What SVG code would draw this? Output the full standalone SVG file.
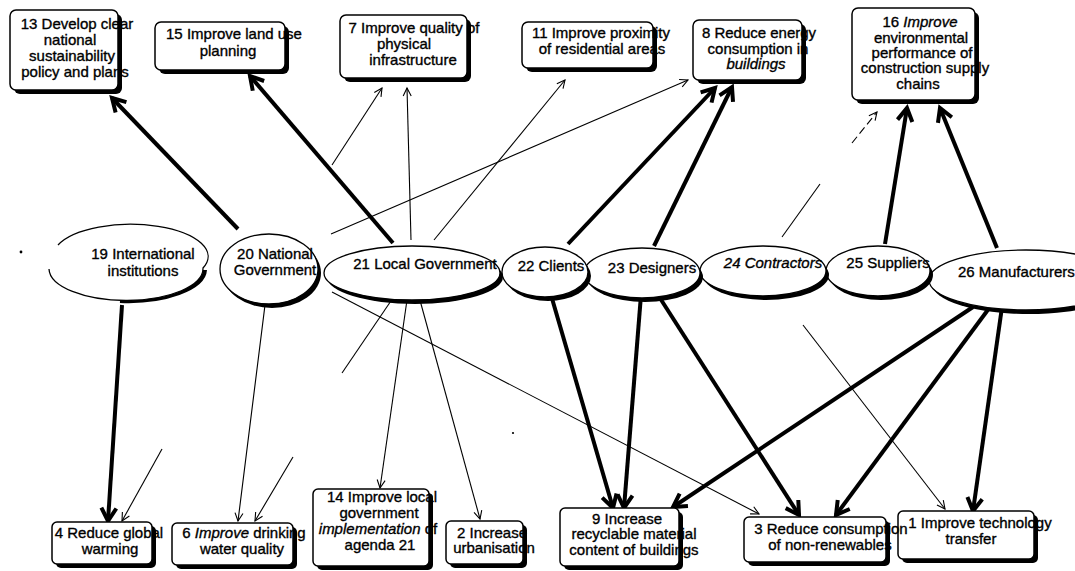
<svg xmlns="http://www.w3.org/2000/svg" width="1075" height="571" viewBox="0 0 1075 571">
  <style>
    text { font-family: "Liberation Sans", Arial, sans-serif; font-size: 15px; fill: #000; stroke: #000; stroke-width: 0.35; text-anchor: middle; }
    .it { font-style: italic; }
    .box { fill: #fff; stroke: #000; stroke-width: 1.5; }
    .shadow { fill: #000; stroke: none; }
    .oval { fill: #fff; stroke: #000; stroke-width: 1.3; }
    .arc { fill: #fff; stroke: #000; stroke-width: 1.3; }
    .arcshadow { fill: none; stroke: #000; stroke-width: 4; }
    .thick { stroke: #000; stroke-width: 4; fill: none; marker-end: url(#headThick); }
    .thin { stroke: #000; stroke-width: 1.1; fill: none; marker-end: url(#headThin); }
    .plain { stroke: #000; stroke-width: 1.1; fill: none; }
  </style>
  <defs>
    <marker id="headThick" markerUnits="userSpaceOnUse" markerWidth="24" markerHeight="24" refX="15" refY="10" orient="auto">
      <path d="M2,2.5 L15,10 L2,17.5" fill="none" stroke="#000" stroke-width="4" stroke-linejoin="miter"/>
    </marker>
    <marker id="headThin" markerUnits="userSpaceOnUse" markerWidth="14" markerHeight="14" refX="9" refY="6" orient="auto">
      <path d="M1,2 L9,6 L1,10" fill="none" stroke="#000" stroke-width="1.1"/>
    </marker>
  </defs>
  <rect width="1075" height="571" fill="#fff"/>

  <!-- connectors -->
  <g id="connectors">
    <!-- strong links -->
    <line class="thick" x1="238" y1="229" x2="112" y2="98"/>
    <line class="thick" x1="393" y1="243" x2="250" y2="76"/>
    <line class="thick" x1="568" y1="244" x2="715" y2="88"/>
    <line class="thick" x1="654" y1="246" x2="732" y2="87"/>
    <line class="thick" x1="885" y1="244" x2="907" y2="108"/>
    <line class="thick" x1="997" y1="248" x2="940" y2="108"/>
    <line class="thick" x1="122" y1="305" x2="108" y2="521"/>
    <line class="thick" x1="551" y1="295" x2="613" y2="508"/>
    <line class="thick" x1="641" y1="295" x2="624" y2="508"/>
    <line class="thick" x1="658" y1="295" x2="799" y2="515"/>
    <line class="thick" x1="973" y1="307" x2="673" y2="507"/>
    <line class="thick" x1="990" y1="307" x2="836" y2="515"/>
    <line class="thick" x1="1002" y1="307" x2="973" y2="511"/>
    <!-- weak links -->
    <line class="thin" x1="411" y1="240" x2="407" y2="88"/>
    <line class="thin" x1="332" y1="165" x2="382" y2="88"/>
    <line class="thin" x1="434" y1="240" x2="565" y2="80"/>
    <line class="thin" x1="331" y1="234" x2="688" y2="80"/>
    <line class="plain" x1="782" y1="237" x2="820" y2="184"/>
    <line class="thin" x1="852" y1="143" x2="877" y2="112" stroke-dasharray="8,4"/>
    <line class="thin" x1="162" y1="449" x2="122" y2="521"/>
    <line class="thin" x1="265" y1="305" x2="238" y2="521"/>
    <line class="thin" x1="293" y1="457" x2="255" y2="521"/>
    <line class="thin" x1="408" y1="293" x2="380" y2="488"/>
    <line class="thin" x1="418" y1="293" x2="480" y2="519"/>
    <line class="plain" x1="397" y1="292" x2="342" y2="373"/>
    <line class="thin" x1="332" y1="292" x2="759" y2="514"/>
    <line class="thin" x1="803" y1="325" x2="945" y2="509"/>
    <!-- stray marks -->
    <circle cx="21" cy="252" r="1.4" fill="#000"/>
    <circle cx="513" cy="433" r="1.1" fill="#000"/>
  </g>

  <!-- top row: goals (drawn right to left so long labels stay on top) -->
  <g id="n16">
    <rect class="shadow" x="856" y="12" width="123" height="92" rx="6"/>
    <rect class="box" x="852" y="8" width="123" height="92" rx="6"/>
    <text x="920" y="27">16 <tspan class="it">Improve</tspan></text>
    <text x="921" y="43">environmental</text>
    <text x="922" y="58">performance of</text>
    <text x="925" y="73">construction supply</text>
    <text x="918" y="89">chains</text>
  </g>
  <g id="n8">
    <rect class="shadow" x="697" y="24" width="109" height="60" rx="6"/>
    <rect class="box" x="693" y="20" width="109" height="60" rx="6"/>
    <text x="759" y="38">8 Reduce energy</text>
    <text x="758" y="54">consumption in</text>
    <text x="756" y="69" class="it">buildings</text>
  </g>
  <g id="n11">
    <rect class="shadow" x="526" y="26" width="131" height="46" rx="6"/>
    <rect class="box" x="522" y="22" width="131" height="46" rx="6"/>
    <text x="601" y="38">11 Improve proximity</text>
    <text x="602" y="54">of residential areas</text>
  </g>
  <g id="n7">
    <rect class="shadow" x="344" y="19" width="127" height="63" rx="6"/>
    <rect class="box" x="340" y="15" width="127" height="63" rx="6"/>
    <text x="414" y="33">7 Improve quality of</text>
    <text x="404" y="49">physical</text>
    <text x="413" y="65">infrastructure</text>
  </g>
  <g id="n15">
    <rect class="shadow" x="159" y="26" width="130" height="48" rx="6"/>
    <rect class="box" x="155" y="22" width="130" height="48" rx="6"/>
    <text x="234" y="39">15 Improve land use</text>
    <text x="228" y="56">planning</text>
  </g>
  <g id="n13">
    <rect class="shadow" x="14" y="14" width="108" height="80" rx="6"/>
    <rect class="box" x="10" y="10" width="108" height="80" rx="6"/>
    <text x="77" y="29">13 Develop clear</text>
    <text x="70" y="45">national</text>
    <text x="72" y="61">sustainability</text>
    <text x="75" y="77">policy and plans</text>
  </g>

  <!-- middle row: actors -->
  <g id="n26">
    <ellipse class="shadow" cx="1029" cy="284" rx="97" ry="30"/>
    <ellipse class="oval" cx="1026" cy="280" rx="97" ry="30"/>
    <text x="958" y="277" style="text-anchor:start">26 Manufacturers</text>
  </g>
  <g id="n25">
    <ellipse class="shadow" cx="881" cy="275" rx="52" ry="25"/>
    <ellipse class="oval" cx="878" cy="271" rx="52" ry="25"/>
    <text x="888" y="268">25 Suppliers</text>
  </g>
  <g id="n24">
    <ellipse class="shadow" cx="766" cy="275" rx="63" ry="25"/>
    <ellipse class="oval" cx="763" cy="271" rx="63" ry="25"/>
    <text x="773" y="268" class="it">24 Contractors</text>
  </g>
  <g id="n23">
    <ellipse class="shadow" cx="645" cy="277" rx="58" ry="25"/>
    <ellipse class="oval" cx="642" cy="273" rx="58" ry="25"/>
    <text x="652" y="273">23 Designers</text>
  </g>
  <g id="n22">
    <ellipse class="shadow" cx="548" cy="276" rx="43" ry="25"/>
    <ellipse class="oval" cx="545" cy="272" rx="43" ry="25"/>
    <text x="551" y="271">22 Clients</text>
  </g>
  <g id="n21">
    <ellipse class="shadow" cx="415" cy="277" rx="88" ry="27"/>
    <ellipse class="oval" cx="412" cy="273" rx="88" ry="27"/>
    <text x="425" y="269">21 Local Government</text>
  </g>
  <g id="n20">
    <ellipse class="shadow" cx="272" cy="273" rx="49" ry="35"/>
    <ellipse class="oval" cx="269" cy="269" rx="49" ry="35"/>
    <text x="275" y="259">20 National</text>
    <text x="275" y="275">Government</text>
  </g>
  <g id="n19">
    <!-- outline left open on the left-hand side -->
    <path class="arcshadow" d="M120,301 A77,32 0 0 0 205,270"/>
    <path class="arc" d="M58,245 A77,32 0 0 1 203,268 A77,32 0 0 1 49,269"/>
    <text x="143" y="259">19 International</text>
    <text x="143" y="276">institutions</text>
  </g>

  <!-- bottom row: goals -->
  <g id="n1">
    <rect class="shadow" x="902" y="515" width="136" height="48" rx="5"/>
    <rect class="box" x="898" y="511" width="136" height="48" rx="5"/>
    <text x="980" y="528">1 Improve technology</text>
    <text x="971" y="544">transfer</text>
  </g>
  <g id="n3">
    <rect class="shadow" x="748" y="521" width="142" height="45" rx="5"/>
    <rect class="box" x="744" y="517" width="142" height="45" rx="5"/>
    <text x="831" y="534">3 Reduce consumption</text>
    <text x="830" y="550">of non-renewables</text>
  </g>
  <g id="n9">
    <rect class="shadow" x="564" y="512" width="119" height="58" rx="5"/>
    <rect class="box" x="560" y="508" width="119" height="58" rx="5"/>
    <text x="627" y="524">9 Increase</text>
    <text x="634" y="539">recyclable material</text>
    <text x="634" y="555">content of buildings</text>
  </g>
  <g id="n2">
    <rect class="shadow" x="450" y="525" width="77" height="43" rx="5"/>
    <rect class="box" x="446" y="521" width="77" height="43" rx="5"/>
    <text x="492" y="538">2 Increase</text>
    <text x="494" y="553">urbanisation</text>
  </g>
  <g id="n14">
    <rect class="shadow" x="317" y="493" width="116" height="77" rx="5"/>
    <rect class="box" x="313" y="489" width="116" height="77" rx="5"/>
    <text x="382" y="502">14 Improve local</text>
    <text x="379" y="518">government</text>
    <text x="378" y="534"><tspan class="it">implementation</tspan> of</text>
    <text x="380" y="550">agenda 21</text>
  </g>
  <g id="n6">
    <rect class="shadow" x="176" y="527" width="121" height="42" rx="5"/>
    <rect class="box" x="172" y="523" width="121" height="42" rx="5"/>
    <text x="244" y="538">6 <tspan class="it">Improve</tspan> drinking</text>
    <text x="242" y="554">water quality</text>
  </g>
  <g id="n4">
    <rect class="shadow" x="56" y="526" width="100" height="42" rx="5"/>
    <rect class="box" x="52" y="522" width="100" height="42" rx="5"/>
    <text x="109" y="538">4 Reduce global</text>
    <text x="110" y="554">warming</text>
  </g>
</svg>
